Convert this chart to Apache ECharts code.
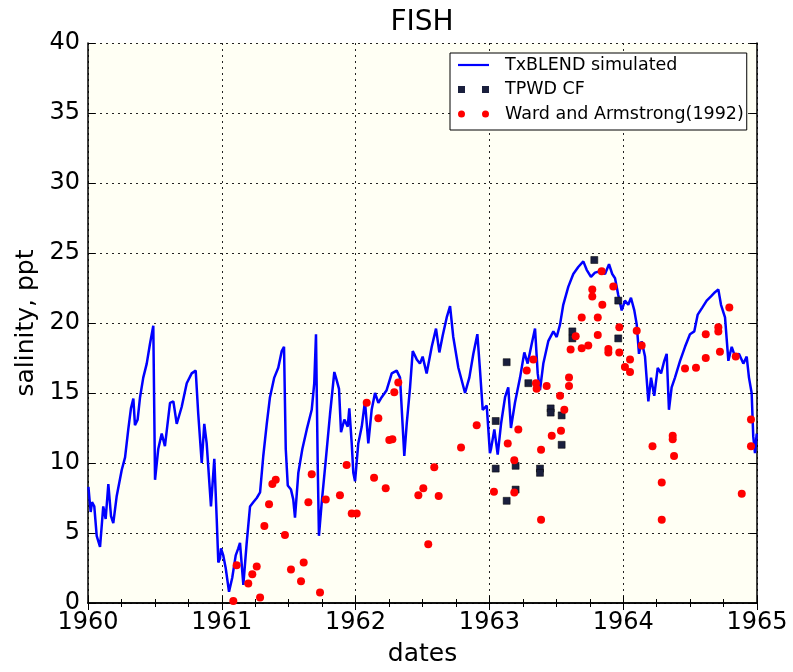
<!DOCTYPE html>
<html>
<head>
<meta charset="utf-8">
<script src="https://cdn.jsdelivr.net/npm/echarts@6/dist/echarts.min.js"></script>
<style>
  html, body { margin: 0; padding: 0; background: #ffffff; }
  #chart { width: 793px; height: 672px; }
</style>
</head>
<body>
<div id="chart"></div>
<script>
// ---- Data (decimal years, salinity ppt) ----
const simDates = [1960.003,1960.020,1960.030,1960.047,1960.065,1960.090,1960.114,1960.132,1960.152,1960.172,1960.189,1960.214,1960.252,1960.277,1960.301,1960.321,1960.339,1960.351,1960.371,1960.389,1960.413,1960.439,1960.463,1960.488,1960.501,1960.525,1960.551,1960.575,1960.613,1960.638,1960.663,1960.700,1960.738,1960.775,1960.805,1960.824,1960.850,1960.869,1960.887,1960.919,1960.944,1960.962,1960.974,1960.987,1960.994,1961.011,1961.029,1961.054,1961.078,1961.104,1961.123,1961.136,1961.161,1961.186,1961.211,1961.235,1961.261,1961.286,1961.310,1961.336,1961.360,1961.392,1961.422,1961.448,1961.465,1961.478,1961.493,1961.517,1961.534,1961.547,1961.572,1961.602,1961.635,1961.672,1961.691,1961.704,1961.717,1961.726,1961.747,1961.777,1961.809,1961.841,1961.859,1961.876,1961.891,1961.916,1961.941,1961.953,1961.971,1961.983,1961.996,1962.020,1962.046,1962.070,1962.095,1962.120,1962.145,1962.170,1962.195,1962.232,1962.270,1962.307,1962.332,1962.352,1962.364,1962.382,1962.407,1962.427,1962.457,1962.481,1962.501,1962.531,1962.569,1962.601,1962.626,1962.651,1962.681,1962.706,1962.730,1962.768,1962.818,1962.850,1962.880,1962.910,1962.930,1962.950,1962.980,1963.004,1963.012,1963.037,1963.062,1963.087,1963.117,1963.141,1963.161,1963.191,1963.229,1963.261,1963.286,1963.316,1963.341,1963.361,1963.378,1963.403,1963.440,1963.478,1963.503,1963.528,1963.552,1963.590,1963.627,1963.664,1963.702,1963.727,1963.759,1963.789,1963.827,1963.864,1963.894,1963.918,1963.939,1963.963,1963.989,1964.013,1964.038,1964.058,1964.083,1964.101,1964.118,1964.138,1964.163,1964.188,1964.208,1964.232,1964.258,1964.283,1964.307,1964.325,1964.342,1964.362,1964.387,1964.425,1964.462,1964.499,1964.531,1964.557,1964.591,1964.624,1964.656,1964.686,1964.711,1964.731,1964.761,1964.786,1964.811,1964.836,1964.865,1964.898,1964.923,1964.940,1964.960,1964.972,1964.985,1964.998];
const simValues = [8.3,6.5,7.2,6.9,4.8,4.0,6.9,6.0,8.5,6.2,5.7,7.6,9.5,10.4,12.4,13.9,14.6,12.7,13.1,14.7,16.1,17.1,18.5,19.8,8.8,11.0,12.1,11.2,14.3,14.4,12.8,14.0,15.7,16.4,16.6,13.5,10.0,12.8,11.4,6.9,10.3,6.0,2.9,3.2,3.9,3.4,2.5,0.8,1.8,3.4,3.9,4.3,1.3,4.3,6.9,7.2,7.5,7.9,10.5,12.8,14.7,16.1,16.8,18.0,18.3,11.0,8.4,8.1,7.4,6.1,9.3,11.0,12.4,13.8,15.7,19.2,9.8,4.8,7.2,10.2,13.5,16.5,15.9,15.3,12.2,13.1,12.6,13.9,11.4,9.3,8.7,11.4,12.6,14.4,11.4,13.8,15.0,14.3,14.7,15.2,16.4,16.6,16.1,12.6,10.5,12.8,15.4,18.0,17.4,17.1,17.6,16.4,18.3,19.6,17.9,19.1,20.4,21.2,19.0,16.8,15.0,16.1,17.8,19.2,16.6,13.8,14.1,10.7,11.0,12.4,10.6,12.8,14.7,15.4,12.5,14.3,16.1,17.9,17.1,18.5,19.6,16.4,15.2,17.1,18.7,19.4,19.0,19.9,21.3,22.6,23.5,24.0,24.4,23.8,23.3,23.6,23.7,23.5,24.2,23.5,23.2,22.0,20.9,21.6,21.3,21.8,20.9,19.9,17.8,18.7,17.6,14.4,16.1,14.8,16.8,16.4,17.3,17.8,13.8,15.4,16.1,17.3,18.3,19.2,19.4,20.6,21.1,21.6,21.9,22.2,22.4,21.3,20.4,17.3,18.3,17.6,17.8,17.1,17.6,16.1,15.0,11.9,10.7,12.1];

const tpwdDates = [1963.047,1963.047,1963.129,1963.129,1963.196,1963.196,1963.291,1963.378,1963.378,1963.458,1963.458,1963.540,1963.540,1963.620,1963.620,1963.784,1963.963,1963.963];
const tpwdValues = [13.0,9.6,17.2,7.3,9.8,8.1,15.7,9.6,9.3,13.9,13.6,13.4,11.3,19.4,18.9,24.5,21.6,18.9];

const waDates = [1961.086,1961.111,1961.198,1961.228,1961.261,1961.286,1961.318,1961.353,1961.378,1961.403,1961.472,1961.517,1961.592,1961.612,1961.647,1961.672,1961.734,1961.777,1961.883,1961.933,1961.971,1962.008,1962.083,1962.138,1962.170,1962.225,1962.252,1962.275,1962.289,1962.319,1962.469,1962.506,1962.543,1962.588,1962.621,1962.788,1962.905,1963.034,1963.137,1963.186,1963.186,1963.216,1963.279,1963.328,1963.348,1963.353,1963.386,1963.386,1963.428,1963.466,1963.528,1963.535,1963.560,1963.595,1963.595,1963.607,1963.645,1963.690,1963.690,1963.739,1963.769,1963.769,1963.810,1963.810,1963.839,1963.844,1963.889,1963.889,1963.926,1963.971,1963.971,1964.013,1964.051,1964.051,1964.101,1964.138,1964.219,1964.288,1964.288,1964.370,1964.370,1964.380,1964.462,1964.544,1964.617,1964.617,1964.711,1964.711,1964.723,1964.793,1964.841,1964.886,1964.955,1964.955];
const waValues = [0.15,2.7,1.4,2.05,2.6,0.4,5.5,7.05,8.5,8.8,4.85,2.4,1.55,2.9,7.2,9.2,0.75,7.4,7.7,9.85,6.4,6.4,14.3,8.95,13.2,8.2,11.65,11.7,15.05,15.75,7.7,8.2,4.2,9.7,7.65,11.1,12.7,7.95,11.4,10.2,7.9,12.4,16.6,17.4,15.7,15.3,10.95,5.95,15.5,11.95,14.8,12.3,13.8,16.1,15.5,18.1,19.05,18.2,20.4,18.4,22.4,21.9,19.15,20.4,23.7,21.3,18.15,17.9,22.6,19.7,17.9,16.85,16.5,17.4,19.45,18.4,11.2,8.6,5.95,11.95,11.7,10.5,16.75,16.8,19.2,17.5,19.7,19.4,17.95,21.1,17.6,7.8,13.1,11.2];

const xTicks = [1960, 1961, 1962, 1963, 1964, 1965];
const yTicks = [0, 5, 10, 15, 20, 25, 30, 35, 40];

const seriesNames = ['TxBLEND simulated', 'TPWD CF', 'Ward and Armstrong(1992)'];

function zip(a, b) { return a.map((v, i) => [v, b[i]]); }

const FONT = 'DejaVu Sans';
const gridLine = { show: true, lineStyle: { color: '#222', width: 1, type: [2, 4] } };

const chart = echarts.init(document.getElementById('chart'), null, { renderer: 'canvas' });
chart.setOption({
  animation: false,
  backgroundColor: '#ffffff',
  title: {
    text: 'FISH',
    left: 422,
    top: 9,
    padding: 0,
    textAlign: 'center',
    textStyle: { fontFamily: FONT, fontSize: 28, fontWeight: 'normal', color: '#000' }
  },
  legend: {
    orient: 'vertical',
    left: 450,
    top: 53,
    padding: [3, 3, 7, 8],
    backgroundColor: '#ffffff',
    borderColor: '#000',
    borderWidth: 1,
    itemWidth: 31,
    itemHeight: 7,
    itemGap: 6.5,
    selectedMode: false,
    textStyle: { fontFamily: FONT, fontSize: 17.5, color: '#000', padding: [0, 0, 0, 11] },
    data: [
      { name: seriesNames[0], icon: 'path://M0,0H31V2.2H0Z', itemStyle: { color: '#0000ff', borderWidth: 0 } },
      { name: seriesNames[1], icon: 'path://M0,0H7V7H0Z M24,0H31V7H24Z', itemStyle: { color: '#1a1f3d', borderWidth: 0 } },
      { name: seriesNames[2], icon: 'path://M0,3.5A3.5,3.5,0,1,1,7,3.5A3.5,3.5,0,1,1,0,3.5Z M24,3.5A3.5,3.5,0,1,1,31,3.5A3.5,3.5,0,1,1,24,3.5Z', itemStyle: { color: '#ff0000', borderWidth: 0 } }
    ]
  },
  grid: {
    left: 88, right: 36, top: 43, bottom: 64,
    show: true, backgroundColor: '#fffff4', borderWidth: 0
  },
  xAxis: [
    {
      type: 'value', position: 'bottom',
      min: xTicks[0], max: xTicks[xTicks.length - 1], interval: 1,
      name: 'dates', nameLocation: 'middle', nameGap: 39,
      nameTextStyle: { fontFamily: FONT, fontSize: 25, color: '#000' },
      axisLine: { show: true, lineStyle: { color: '#000', width: 1.5 } },
      axisTick: { show: true, inside: true, length: 7, lineStyle: { color: '#000', width: 1 } },
      minorTick: { show: true, splitNumber: 4, length: 4, lineStyle: { color: '#000', width: 1 } },
      axisLabel: { fontFamily: FONT, fontSize: 24, color: '#000', margin: 8, formatter: v => String(Math.round(v)) },
      splitLine: gridLine
    },
    {
      type: 'value', position: 'top',
      min: xTicks[0], max: xTicks[xTicks.length - 1], interval: 1,
      axisLine: { show: true, lineStyle: { color: '#000', width: 1.5 } },
      axisTick: { show: true, inside: true, length: 7, lineStyle: { color: '#000', width: 1 } },
      minorTick: { show: true, splitNumber: 4, length: 4, lineStyle: { color: '#000', width: 1 } },
      axisLabel: { show: false },
      splitLine: { show: false }
    }
  ],
  yAxis: [
    {
      type: 'value', position: 'left',
      min: yTicks[0], max: yTicks[yTicks.length - 1], interval: 5,
      name: 'salinity, ppt', nameLocation: 'middle', nameGap: 45, nameRotate: 90,
      nameTextStyle: { fontFamily: FONT, fontSize: 25, color: '#000' },
      axisLine: { show: true, lineStyle: { color: '#000', width: 1.5 } },
      axisTick: { show: true, inside: true, length: 7, lineStyle: { color: '#000', width: 1 } },
      axisLabel: { fontFamily: FONT, fontSize: 24, color: '#000', margin: 8 },
      splitLine: gridLine
    },
    {
      type: 'value', position: 'right',
      min: yTicks[0], max: yTicks[yTicks.length - 1], interval: 5,
      axisLine: { show: true, lineStyle: { color: '#000', width: 1.5 } },
      axisTick: { show: true, inside: true, length: 7, lineStyle: { color: '#000', width: 1 } },
      axisLabel: { show: false },
      splitLine: { show: false }
    }
  ],
  series: [
    {
      name: seriesNames[0], type: 'line', xAxisIndex: 0, yAxisIndex: 0,
      data: zip(simDates, simValues),
      showSymbol: false, symbol: 'none',
      lineStyle: { color: '#0000ff', width: 2.5 },
      itemStyle: { color: '#0000ff' },
      z: 2
    },
    {
      name: seriesNames[1], type: 'scatter', xAxisIndex: 0, yAxisIndex: 0,
      data: zip(tpwdDates, tpwdValues),
      symbol: 'rect', symbolSize: 7,
      itemStyle: { color: '#1a1f3d', borderColor: '#000', borderWidth: 0.5, opacity: 1 },
      z: 3
    },
    {
      name: seriesNames[2], type: 'scatter', xAxisIndex: 0, yAxisIndex: 0,
      data: zip(waDates, waValues),
      symbol: 'circle', symbolSize: 8,
      itemStyle: { color: '#ff0000', opacity: 1 },
      z: 4
    }
  ]
});
</script>
</body>
</html>
